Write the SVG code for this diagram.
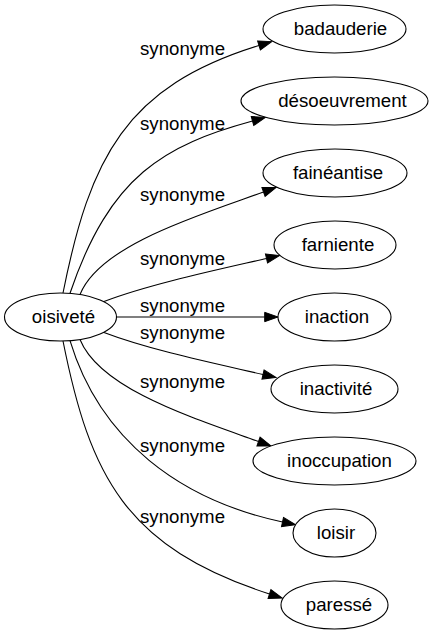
<svg xmlns="http://www.w3.org/2000/svg" width="434" height="635" viewBox="0 0 434 635">
<style>
.node ellipse{fill:#fff;stroke:#000;stroke-width:1.1}
.node text,.lbl{font-family:"Liberation Sans",Arial,sans-serif;font-size:18.67px;fill:#000;text-anchor:middle}
.edge{fill:none;stroke:#000;stroke-width:1.1;marker-end:url(#arr)}
</style>
<defs>
<marker id="arr" markerUnits="userSpaceOnUse" markerWidth="16" markerHeight="12" refX="0" refY="4.67" orient="auto" viewBox="0 0 16 12" overflow="visible">
<path d="M0,0 L13.3,4.67 L0,9.34 z" fill="#000" stroke="#000" stroke-width="1"/>
</marker>
</defs>
<rect width="434" height="635" fill="#fff"/>
<g id="connectors">
<path class="edge" d="M63,293 C90,158 125.2,86.7 259,45.5"/>
<path class="edge" d="M70,293.3 C110,175 165,145 252.5,121"/>
<path class="edge" d="M80,294.5 C100,245 197.7,215.7 263.5,192"/>
<path class="edge" d="M104,301.5 C150,284 217.8,269.7 266.5,258.5"/>
<path class="edge" d="M116.5,317 L264.7,317"/>
<path class="edge" d="M104,332.5 C150,350 214.3,363.3 263,374.5"/>
<path class="edge" d="M80,339.5 C100,389 192.7,417.8 258.5,441.5"/>
<path class="edge" d="M70,340.7 C100,440 180,500 282.5,522"/>
<path class="edge" d="M63,341 C90,476 125.2,547.3 269.5,594"/>
<text class="lbl" x="182.5" y="55">synonyme</text>
<text class="lbl" x="182.5" y="130">synonyme</text>
<text class="lbl" x="182.5" y="201">synonyme</text>
<text class="lbl" x="182.5" y="265">synonyme</text>
<text class="lbl" x="182.5" y="312">synonyme</text>
<text class="lbl" x="182.5" y="339">synonyme</text>
<text class="lbl" x="182.5" y="388">synonyme</text>
<text class="lbl" x="182.5" y="452">synonyme</text>
<text class="lbl" x="182.5" y="523">synonyme</text>
</g>
<g id="oisivete" class="node"><ellipse cx="60.5" cy="317" rx="56" ry="24"/><text x="63.5" y="323">oisiveté</text></g>
<g id="badauderie" class="node"><ellipse cx="334.5" cy="29" rx="71.5" ry="24"/><text x="340.5" y="35">badauderie</text></g>
<g id="desoeuvrement" class="node"><ellipse cx="334.5" cy="101" rx="93.5" ry="24"/><text x="342.5" y="107">désoeuvrement</text></g>
<g id="faineantise" class="node"><ellipse cx="335" cy="173" rx="72" ry="24"/><text x="338" y="179">fainéantise</text></g>
<g id="farniente" class="node"><ellipse cx="335" cy="245" rx="61" ry="24"/><text x="338" y="251">farniente</text></g>
<g id="inaction" class="node"><ellipse cx="334.5" cy="317" rx="56.5" ry="24"/><text x="337" y="323">inaction</text></g>
<g id="inactivite" class="node"><ellipse cx="334.5" cy="389" rx="63.5" ry="24"/><text x="336" y="395">inactivité</text></g>
<g id="inoccupation" class="node"><ellipse cx="334.5" cy="461" rx="81.5" ry="24"/><text x="339.5" y="467">inoccupation</text></g>
<g id="loisir" class="node"><ellipse cx="334.5" cy="533" rx="41.5" ry="24"/><text x="336" y="539">loisir</text></g>
<g id="paresse" class="node"><ellipse cx="334.5" cy="605" rx="53.5" ry="24"/><text x="339" y="611">paressé</text></g>
</svg>
